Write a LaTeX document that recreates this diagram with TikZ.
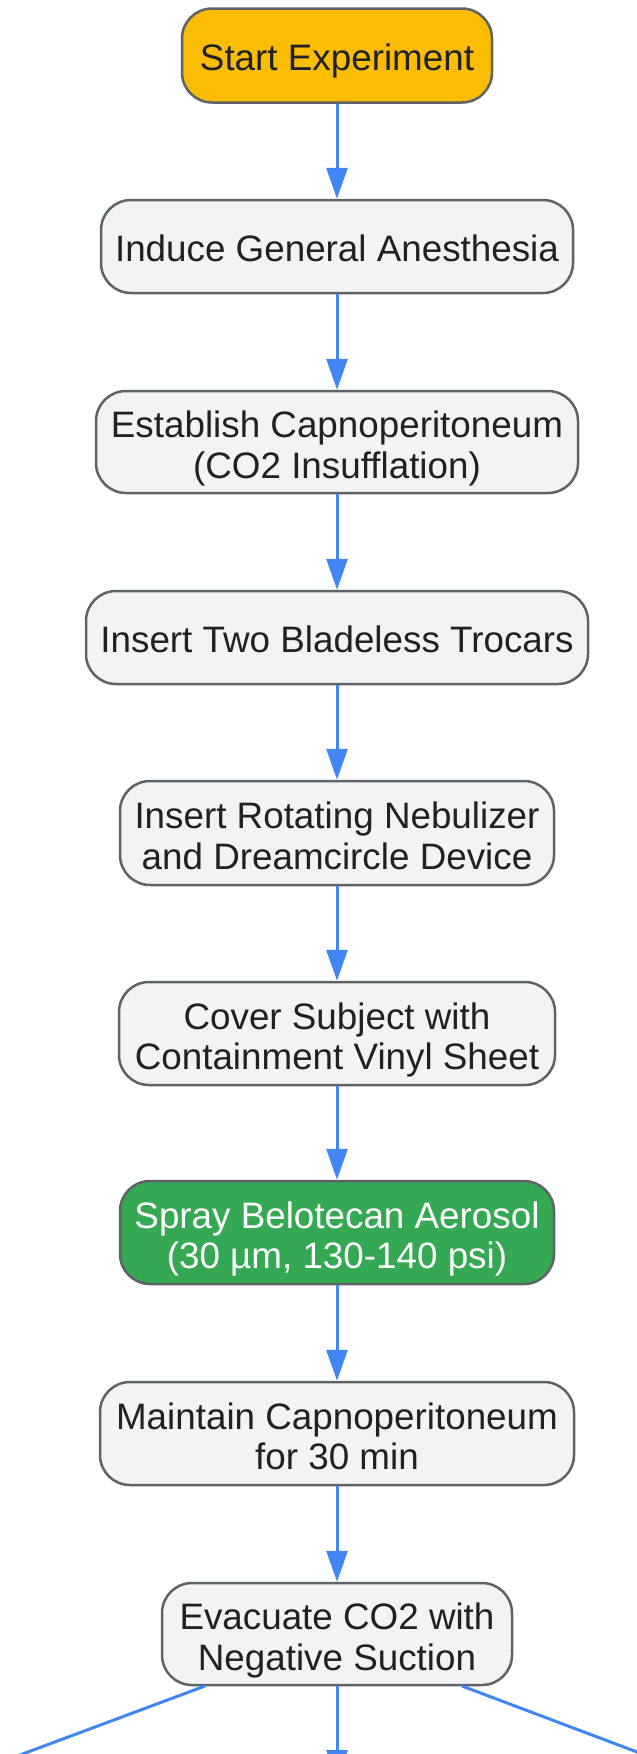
\documentclass[tikz,border=0pt]{standalone}
\usepackage{fontspec}
\setmainfont{Liberation Sans}
\usetikzlibrary{arrows.meta}
\definecolor{arrowblue}{HTML}{4285F4}
\definecolor{bordergrey}{HTML}{5F6368}
\definecolor{boxgrey}{HTML}{F1F3F4}
\definecolor{textdark}{HTML}{202124}
\definecolor{startamber}{HTML}{FBBC04}
\definecolor{spraygreen}{HTML}{34A853}
\begin{document}
\begin{tikzpicture}[x=1pt,y=-1pt,
  box/.style={draw=bordergrey, line width=2.5pt, rounded corners=30pt, fill=boxgrey,
    text=textdark, align=center, font=\fontsize{36.8}{40.5}\selectfont, inner sep=0pt},
  oneline/.style={text height=29pt, text depth=0pt},
  twoline/.style={text height=72pt, text depth=0pt},
  flow/.style={draw=arrowblue, line width=3pt, -{Triangle[length=31pt,width=21pt]}}]
\useasboundingbox (0,0) rectangle (637,1754);
\fill[white] (0,0) rectangle (637,1754);
\node[box, oneline, fill=startamber, minimum width=310pt, minimum height=94pt] (start) at (337,55.5) {Start Experiment};
\node[box, oneline, minimum width=472pt, minimum height=93pt] (induce) at (337,246.5) {Induce General Anesthesia};
\node[box, twoline, minimum width=482pt, minimum height=102pt] (establish) at (337,442) {Establish Capnoperitoneum\\(CO2 Insufflation)};
\node[box, oneline, minimum width=502pt, minimum height=93pt] (trocars) at (337,637.5) {Insert Two Bladeless Trocars};
\node[box, twoline, minimum width=434pt, minimum height=104pt] (nebulizer) at (337,833) {Insert Rotating Nebulizer\\and Dreamcircle Device};
\node[box, twoline, minimum width=436pt, minimum height=103pt] (cover) at (337,1033.5) {Cover Subject with\\Containment Vinyl Sheet};
\node[box, twoline, fill=spraygreen, text=white, minimum width=434pt, minimum height=103pt] (spray) at (337,1232.5) {Spray Belotecan Aerosol\\(30 µm, 130-140 psi)};
\node[box, twoline, minimum width=474pt, minimum height=103pt] (maintain) at (337,1433.5) {Maintain Capnoperitoneum\\for 30 min};
\node[box, twoline, minimum width=350pt, minimum height=102pt] (evacuate) at (337,1634) {Evacuate CO2 with\\Negative Suction};
\coordinate (outleft) at (-50,1781);
\coordinate (outmid) at (337,1781);
\coordinate (outright) at (714,1781);
\coordinate (evl) at (205,1686);
\coordinate (evr) at (462,1686);
\draw[flow] (start) -- (induce);
\draw[flow] (induce) -- (establish);
\draw[flow] (establish) -- (trocars);
\draw[flow] (trocars) -- (nebulizer);
\draw[flow] (nebulizer) -- (cover);
\draw[flow] (cover) -- (spray);
\draw[flow] (spray) -- (maintain);
\draw[flow] (maintain) -- (evacuate);
\draw[flow] (evacuate) -- (outmid);
\draw[flow] (evl) -- (outleft);
\draw[flow] (evr) -- (outright);
\end{tikzpicture}
\end{document}
